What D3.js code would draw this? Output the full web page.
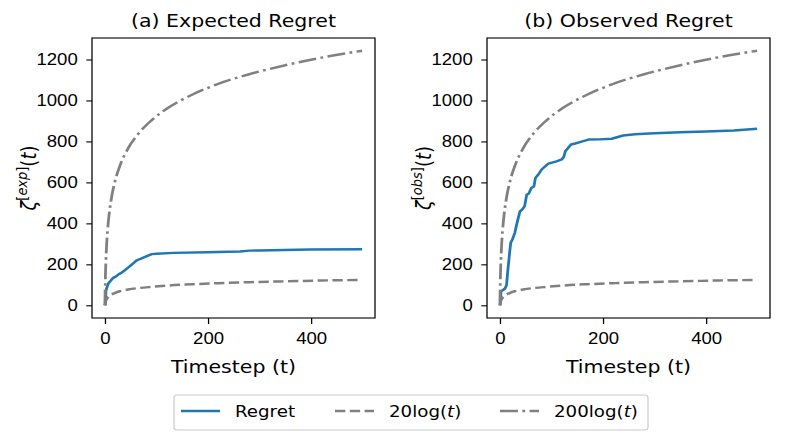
<!DOCTYPE html>
<html>
<head>
<meta charset="utf-8">
<script src="https://cdn.jsdelivr.net/npm/d3@7"></script>
<style>
  body { margin: 0; background: #fff; }
  svg { font-family: "DejaVu Sans", sans-serif; display: block; }
  .tick text { font-size: 16.3px; fill: #000; }
</style>
</head>
<body>
<svg id="chart" width="789" height="444"></svg>
<script>
'use strict';

// reference curves
var log_t = [0, 1, 2, 3, 5, 8, 12, 20, 30, 45, 65, 90, 125, 170, 220, 280, 350, 420, 499];
var log20 = [0, 14, 22, 28, 36, 44, 51, 61, 69, 77, 84, 90, 97, 103, 108, 113, 117, 121, 124];
var log200 = [0, 139, 220, 277, 358, 439, 513, 609, 687, 766, 838, 902, 968, 1029, 1081, 1128, 1172, 1209, 1243];

// (a) expected regret
var exp_t = [0, 1, 2, 4, 7, 12, 16, 21, 26, 31, 36, 42, 48, 55, 61, 68, 78, 85, 91, 100, 133, 197, 262, 281, 300, 398, 499];
var exp_v = [0, 5, 70, 88, 108, 122, 134, 140, 150, 157, 166, 178, 190, 205, 218, 226, 236, 244, 250, 252, 256, 259, 263, 267, 268, 272, 274];

// (b) observed regret
var obs_t = [0, 1, 2, 6, 10, 13, 15, 17, 19, 21, 24, 29, 33, 39, 44, 48, 52, 56, 61, 66, 69, 75, 81, 94, 110, 120, 124, 127, 133, 138, 146, 160, 172, 194, 217, 239, 262, 300, 350, 400, 454, 499];
var obs_v = [0, 5, 68, 75, 82, 100, 160, 210, 260, 305, 320, 354, 400, 459, 470, 484, 540, 545, 573, 580, 622, 640, 663, 692, 703, 712, 725, 752, 770, 785, 790, 800, 809, 810, 813, 829, 835, 840, 845, 849, 853, 862];

var x_ticks = [0, 200, 400];
var y_ticks = [0, 200, 400, 600, 800, 1000, 1200];

// the original picture is stretched sideways, so draw in a narrower
// viewBox and let the svg stretch it back out
var sx = 1.14;
function px(v) { return v / sx; }

var panels = [
  { title: '(a) Expected Regret', sup: 'exp', t: exp_t, v: exp_v, left: px(92) },
  { title: '(b) Observed Regret', sup: 'obs', t: obs_t, v: obs_v, left: px(487) }
];

var blue = '#1f77b4';
var gray = '#808080';
var lw = 2.45;
var dash = (3.7 * lw) + ',' + (1.6 * lw);
var dashdot = (6.4 * lw) + ',' + (1.6 * lw) + ',' + lw + ',' + (1.6 * lw);

var plot_w = px(283);
var plot_top = 38;
var plot_bottom = 318;

var svg = d3.select('#chart')
  .attr('viewBox', '0 0 ' + px(789) + ' 444')
  .attr('preserveAspectRatio', 'none');

panels.forEach(function (p) {
  var x = d3.scaleLinear().domain([-25, 524]).range([p.left, p.left + plot_w]);
  var y = d3.scaleLinear().domain([-62, 1305]).range([plot_bottom, plot_top]);

  var g = svg.append('g');

  var line = d3.line()
    .x(function (d) { return x(d[0]); })
    .y(function (d) { return y(d[1]); });

  g.append('path')
    .datum(d3.zip(p.t, p.v))
    .attr('d', line)
    .attr('fill', 'none')
    .attr('stroke', blue)
    .attr('stroke-width', lw)
    .attr('stroke-linejoin', 'round');

  var smooth = line.curve(d3.curveMonotoneX);
  g.append('path')
    .datum(d3.zip(log_t, log20))
    .attr('d', smooth)
    .attr('fill', 'none')
    .attr('stroke', gray)
    .attr('stroke-width', lw)
    .attr('stroke-dasharray', dash);

  g.append('path')
    .datum(d3.zip(log_t, log200))
    .attr('d', smooth)
    .attr('fill', 'none')
    .attr('stroke', gray)
    .attr('stroke-width', lw)
    .attr('stroke-dasharray', dashdot);

  g.append('rect')
    .attr('x', p.left).attr('y', plot_top)
    .attr('width', plot_w).attr('height', plot_bottom - plot_top)
    .attr('fill', 'none').attr('stroke', '#000').attr('stroke-width', 1.1);

  var xa = g.append('g').attr('transform', 'translate(0,' + plot_bottom + ')')
    .call(d3.axisBottom(x).tickValues(x_ticks).tickFormat(d3.format('d')).tickSize(6).tickPadding(8.5));
  var ya = g.append('g').attr('transform', 'translate(' + p.left + ',0)')
    .call(d3.axisLeft(y).tickValues(y_ticks).tickFormat(d3.format('d')).tickSize(5).tickPadding(7.5));
  [xa, ya].forEach(function (a) {
    a.select('.domain').remove();
    a.selectAll('.tick line').attr('stroke', '#000').attr('stroke-width', 1.1);
    a.selectAll('.tick text').attr('font-family', null).attr('font-size', null);
  });

  var cx = p.left + plot_w / 2;
  g.append('text')
    .attr('x', cx).attr('y', 27)
    .attr('text-anchor', 'middle')
    .style('font-size', '18px')
    .text(p.title);

  g.append('text')
    .attr('x', cx).attr('y', 373)
    .attr('text-anchor', 'middle')
    .style('font-size', '18px')
    .text('Timestep (t)');

  var yl = g.append('text')
    .attr('transform', 'translate(' + (p.left - px(56)) + ',' + ((plot_top + plot_bottom) / 2) + ') rotate(-90)')
    .attr('text-anchor', 'middle')
    .style('font-size', '18px');
  yl.append('tspan').style('font-style', 'italic').text('ζ');
  yl.append('tspan').attr('dy', -8).style('font-size', '13px').text('[');
  yl.append('tspan').style('font-size', '13px').style('font-style', 'italic').text(p.sup);
  yl.append('tspan').style('font-size', '13px').text(']');
  yl.append('tspan').attr('dy', 8).text('(');
  yl.append('tspan').style('font-style', 'italic').text('t');
  yl.append('tspan').text(')');
});

// legend
var legend_items = [
  { label: ['Regret'], dash: null, x: px(181) },
  { label: ['20log(', 't', ')'], dash: dash, x: px(335) },
  { label: ['200log(', 't', ')'], dash: dashdot, x: px(500) }
];

var lg = svg.append('g');
lg.append('rect')
  .attr('x', px(174)).attr('y', 395)
  .attr('width', px(474)).attr('height', 35)
  .attr('rx', 3)
  .attr('fill', '#fff').attr('stroke', '#ccc').attr('stroke-width', 1.1);

legend_items.forEach(function (d, i) {
  lg.append('line')
    .attr('x1', d.x).attr('x2', d.x + px(39))
    .attr('y1', 411).attr('y2', 411)
    .attr('stroke', i === 0 ? blue : gray)
    .attr('stroke-width', lw)
    .attr('stroke-dasharray', d.dash);
  var t = lg.append('text')
    .attr('x', d.x + px(54)).attr('y', 417)
    .style('font-size', '16px');
  d.label.forEach(function (s, j) {
    t.append('tspan').style('font-style', j === 1 ? 'italic' : null).text(s);
  });
});
</script>
</body>
</html>
